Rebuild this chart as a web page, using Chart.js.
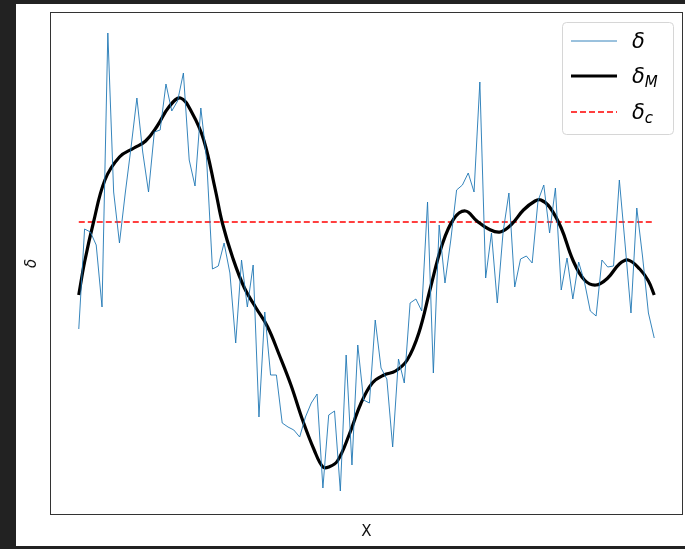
<!DOCTYPE html>
<html>
<head>
<meta charset="utf-8">
<script src="https://cdn.jsdelivr.net/npm/chart.js@4.4.1/dist/chart.umd.min.js"></script>
<style>
  html, body { margin: 0; padding: 0; background: #222; }
  #wrap { width: 685px; height: 549px; }
</style>
</head>
<body>
<div id="wrap"><canvas id="chart" width="685" height="549"></canvas></div>
<script>
// sample index of the raw signal
const xIndex = Array.from({ length: 100 }, (_, i) => i);

// raw delta (noisy)
const delta = [
  1.86, 2.86, 2.83, 2.70, 2.08, 4.82, 3.23, 2.72, 3.22, 3.68,
  4.17, 3.63, 3.23, 3.83, 3.85, 4.31, 4.04, 4.14, 4.42, 3.55,
  3.29, 4.07, 3.55, 2.46, 2.49, 2.72, 2.42, 1.72, 2.55, 2.08,
  2.50, 0.98, 2.03, 1.40, 1.40, 0.92, 0.88, 0.85, 0.78, 0.98,
  1.12, 1.21, 0.27, 1.00, 1.04, 0.24, 1.60, 0.50, 1.70, 1.15,
  1.12, 1.95, 1.47, 1.36, 0.68, 1.56, 1.32, 2.12, 2.16, 2.04,
  3.13, 1.42, 2.90, 2.32, 2.75, 3.25, 3.30, 3.42, 3.23, 4.33,
  2.37, 2.82, 2.12, 2.83, 3.22, 2.28, 2.56, 2.59, 2.52, 3.14,
  3.30, 2.82, 3.27, 2.25, 2.57, 2.16, 2.53, 2.33, 2.04, 1.99,
  2.55, 2.48, 2.49, 3.35, 2.70, 2.02, 3.07, 2.58, 2.02, 1.77
];

// smoothed delta_M, read at these x positions
const deltaMX = [
  0, 1, 2.5, 4.5, 7, 9.5, 11.5, 13.5, 15.5, 17.5,
  19.5, 21.5, 23.5, 24.7, 26.5, 28.5, 30.5, 32.5, 34.5, 36.5,
  38.5, 40.5, 42, 43, 44.5, 46.5, 48.5, 50.5, 52.5, 54.5,
  56.5, 58.5, 60.5, 62.5, 64.5, 66.5, 68.5, 70.5, 72.5, 74.5,
  76.5, 78.5, 79.5, 81, 83, 85, 87, 89, 91, 93,
  94.5, 96.5, 98, 99
];
const deltaM = [
  2.20, 2.53, 2.92, 3.35, 3.58, 3.67, 3.74, 3.89, 4.08, 4.17,
  4.02, 3.75, 3.25, 2.92, 2.57, 2.27, 2.07, 1.88, 1.60, 1.30,
  0.95, 0.65, 0.48, 0.48, 0.54, 0.80, 1.11, 1.32, 1.40, 1.44,
  1.55, 1.82, 2.27, 2.70, 2.96, 3.04, 2.94, 2.86, 2.83, 2.91,
  3.05, 3.14, 3.15, 3.08, 2.87, 2.55, 2.35, 2.30, 2.37, 2.51,
  2.55, 2.46, 2.34, 2.20
];

// critical delta_c
const deltaC = 2.93;

const labels = [
  { main: 'δ', sub: '' },
  { main: 'δ', sub: 'M' },
  { main: 'δ', sub: 'c' }
];

const colors = ['#1f77b4', '#000000', '#ff0000'];

const frame = {
  id: 'frame',
  beforeDraw(chart) {
    const ctx = chart.ctx;
    ctx.save();
    ctx.fillStyle = '#222';
    ctx.fillRect(0, 0, 685, 549);
    ctx.fillStyle = '#ffffff';
    ctx.fillRect(16, 4, 669, 542);
    ctx.restore();
  },
  afterDraw(chart) {
    const ctx = chart.ctx;
    const a = chart.chartArea;
    ctx.save();
    ctx.strokeStyle = '#333';
    ctx.lineWidth = 1;
    ctx.strokeRect(Math.round(a.left) + 0.5, Math.round(a.top) + 0.5,
      Math.round(a.right - a.left) - 1, Math.round(a.bottom - a.top) - 1);

    // legend
    const bx = 562, by = 22, bw = 111, bh = 112;
    ctx.beginPath();
    ctx.roundRect(bx + 0.5, by + 0.5, bw, bh, 4);
    ctx.fillStyle = 'rgba(255,255,255,0.8)';
    ctx.fill();
    ctx.strokeStyle = '#d6d6d6';
    ctx.stroke();

    const rows = [41, 76, 112];
    chart.data.datasets.forEach((ds, k) => {
      const y = rows[k];
      ctx.beginPath();
      ctx.strokeStyle = ds.borderColor;
      ctx.lineWidth = ds.borderWidth;
      ctx.setLineDash(ds.borderDash || []);
      ctx.moveTo(571, y);
      ctx.lineTo(617, y);
      ctx.stroke();
      ctx.setLineDash([]);

      const lab = labels[k];
      ctx.fillStyle = '#000';
      ctx.textBaseline = 'alphabetic';
      ctx.font = 'italic 21px "DejaVu Sans"';
      ctx.fillText(lab.main, 632, y + 7);
      if (lab.sub) {
        const w = ctx.measureText(lab.main).width;
        ctx.font = 'italic 15px "DejaVu Sans"';
        ctx.fillText(lab.sub, 632 + w, y + 11);
      }
    });
    ctx.restore();
  }
};

new Chart(document.getElementById('chart'), {
  type: 'line',
  data: {
    datasets: [
      {
        label: 'δ',
        data: xIndex.map((x, i) => ({ x: x, y: delta[i] })),
        borderColor: colors[0],
        borderWidth: 0.9,
        pointRadius: 0,
        tension: 0
      },
      {
        label: 'δM',
        data: deltaMX.map((x, i) => ({ x: x, y: deltaM[i] })),
        borderColor: colors[1],
        borderWidth: 3.2,
        pointRadius: 0,
        tension: 0.4
      },
      {
        label: 'δc',
        data: [{ x: xIndex[0], y: deltaC }, { x: xIndex[xIndex.length - 1], y: deltaC }],
        borderColor: colors[2],
        borderWidth: 1.5,
        borderDash: [6, 3],
        pointRadius: 0
      }
    ]
  },
  options: {
    responsive: false,
    animation: false,
    devicePixelRatio: 1,
    layout: { padding: { left: 16, top: 12, right: 2, bottom: 0 } },
    plugins: {
      legend: { display: false },
      tooltip: { enabled: false }
    },
    scales: {
      x: {
        type: 'linear',
        min: -4.95,
        max: 103.95,
        ticks: { display: false },
        grid: { display: false },
        border: { display: false },
        title: {
          display: true,
          text: 'X',
          color: '#111',
          font: { family: 'DejaVu Sans', size: 15 },
          padding: { top: 0, bottom: 8 }
        },
        afterFit(s) { s.height = 34; }
      },
      y: {
        min: 0,
        max: 5.03,
        ticks: { display: false },
        grid: { display: false },
        border: { display: false },
        title: {
          display: true,
          text: 'δ',
          color: '#111',
          font: { family: 'DejaVu Sans', size: 15, style: 'italic' },
          padding: { top: 7, bottom: 0 }
        },
        afterFit(s) { s.width = 34; }
      }
    }
  },
  plugins: [frame]
});
</script>
</body>
</html>
